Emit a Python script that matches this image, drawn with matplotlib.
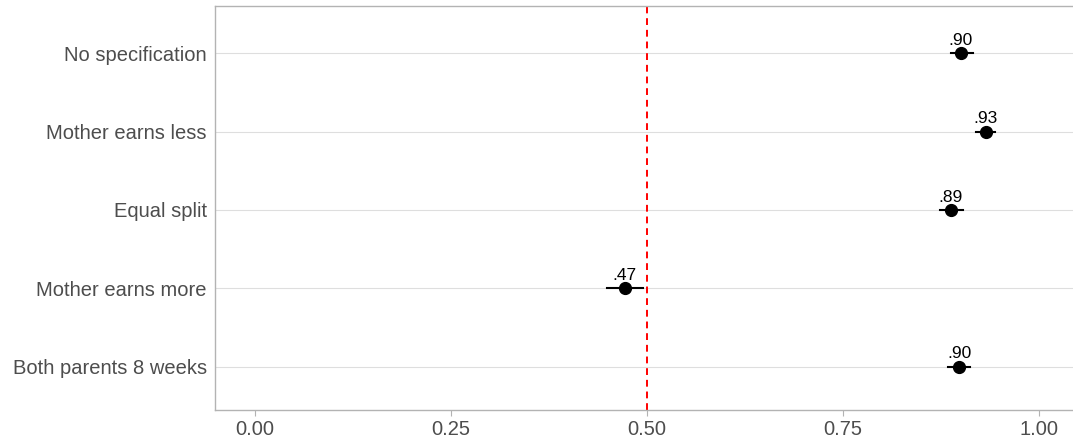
import matplotlib.pyplot as plt

plt.rcParams['font.family'] = ['Liberation Sans', 'DejaVu Sans']

categories = ["Both parents 8 weeks", "Mother earns more", "Equal split",
              "Mother earns less", "No specification"]
means = [0.899, 0.472, 0.888, 0.933, 0.901]
lower = [0.885, 0.450, 0.874, 0.920, 0.888]
upper = [0.913, 0.496, 0.904, 0.944, 0.916]
labels = [".90", ".47", ".89", ".93", ".90"]
xticks = [0.0, 0.25, 0.5, 0.75, 1.0]

fig = plt.figure(figsize=(10.73, 4.43), dpi=100)
ax = fig.add_axes([215/1073, 33/443, (1073-215)/1073, (410-6)/443])

ypos = list(range(1, len(categories) + 1))
for y in ypos:
    ax.axhline(y, color='#DEDEDE', lw=0.8, zorder=0)

ax.axvline(0.5, color='red', lw=1.4, ls=(0, (3.5, 2.5)), zorder=1)

for i, y in enumerate(ypos):
    ax.plot([lower[i], upper[i]], [y, y], color='black', lw=1.5, zorder=2)
ax.plot(means, ypos, 'o', color='black', ms=8.5, zorder=3)
for i, y in enumerate(ypos):
    ax.annotate(labels[i], (means[i], y), xytext=(0, 6), textcoords='offset points',
                ha='center', va='baseline', fontsize=12.5, color='black')

ax.set_xlim(-0.0504, 1.044)
ax.set_ylim(0.447, 5.604)
ax.set_yticks(ypos)
ax.set_yticklabels(categories)
ax.set_xticks(xticks)
ax.set_xticklabels(["%.2f" % v for v in xticks])
ax.tick_params(axis='both', colors='#B3B3B3', labelcolor='#4D4D4D', labelsize=14.5)
ax.tick_params(axis='y', length=0, pad=6)
ax.tick_params(axis='x', length=4, pad=3)

ax.spines['right'].set_visible(False)
for s in ['left', 'bottom', 'top']:
    ax.spines[s].set_color('#B3B3B3')
    ax.spines[s].set_linewidth(1.0)

fig.savefig('out.png', dpi=100)
